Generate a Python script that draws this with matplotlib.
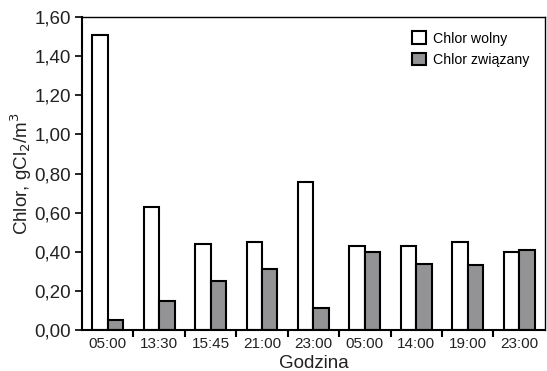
import matplotlib.pyplot as plt
import numpy as np

plt.rcParams['font.family'] = ['Liberation Sans', 'DejaVu Sans']

godziny = ['05:00', '13:30', '15:45', '21:00', '23:00', '05:00', '14:00', '19:00', '23:00']
wolny = [1.51, 0.63, 0.44, 0.45, 0.755, 0.43, 0.43, 0.45, 0.40]
zwiazany = [0.05, 0.15, 0.25, 0.31, 0.11, 0.40, 0.34, 0.33, 0.41]

fig = plt.figure(figsize=(5.47, 3.71), dpi=100)
ax = fig.add_axes([0.150, 0.1105, 0.846, 0.8435])

x = np.arange(len(godziny))
w = 0.3
ax.bar(x - w/2, wolny, w, color='white', edgecolor='black', linewidth=1.5, label='Chlor wolny')
ax.bar(x + w/2, zwiazany, w, color='#939396', edgecolor='black', linewidth=1.5, label='Chlor związany')

ax.set_xlim(-0.5, len(godziny) - 0.5)
ax.set_ylim(0, 1.6)
yt = np.arange(0, 1.61, 0.2)
ax.set_yticks(yt)
ax.set_yticklabels([f'{v:.2f}'.replace('.', ',') for v in yt], fontsize=13.5, color='#222222')

ax.set_xticks(x)
ax.set_xticklabels(godziny, fontsize=11, color='#222222')
ax.tick_params(axis='x', which='major', length=0, pad=5)
ax.set_xticks(np.arange(0.5, len(godziny) - 1, 1), minor=True)
ax.tick_params(axis='x', which='minor', length=5, width=1.5, direction='out')
ax.tick_params(axis='y', length=5, width=1.2, direction='out', pad=3)

for s in ax.spines.values():
    s.set_linewidth(1.0)
ax.spines['left'].set_linewidth(1.5)
ax.spines['bottom'].set_linewidth(1.5)

ax.set_xlabel('Godzina', fontsize=13.5, labelpad=3, color='#222222')
ax.set_ylabel('Chlor, gCl$_2$/m$^3$', fontsize=13.5, labelpad=0, color='#222222')

ax.legend(loc='upper right', frameon=False, fontsize=10.2, handlelength=1.0, handleheight=1.0,
          handletextpad=0.5, bbox_to_anchor=(0.995, 0.995))

fig.savefig('out.png', dpi=100)
